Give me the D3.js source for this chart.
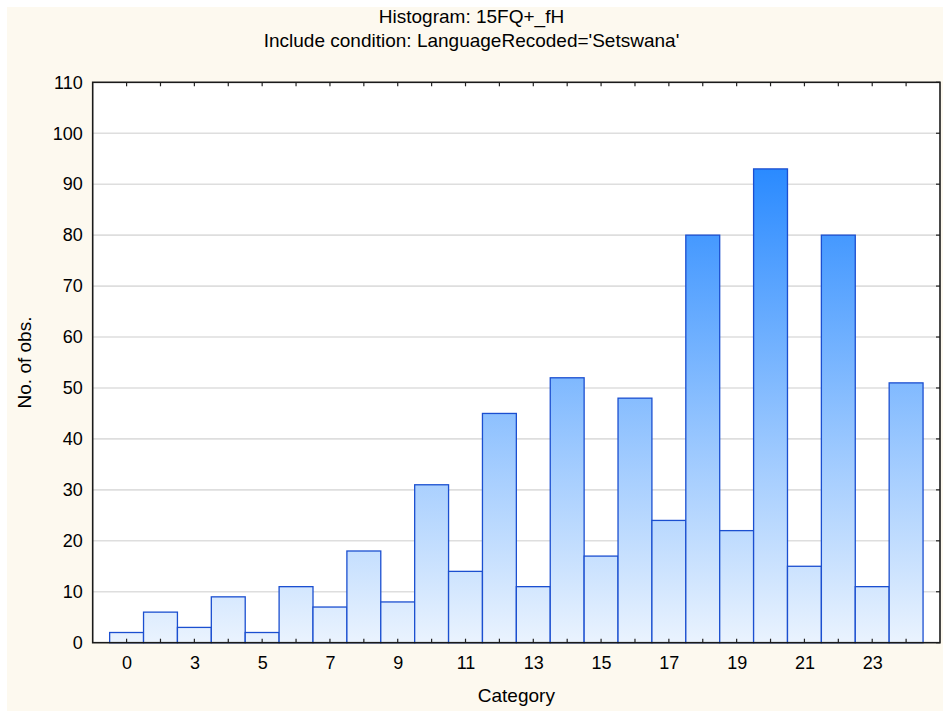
<!DOCTYPE html>
<html>
<head>
<meta charset="utf-8">
<script src="https://cdn.jsdelivr.net/npm/d3@7"></script>
<style>
  html, body { margin: 0; padding: 0; background: #ffffff; }
  svg { display: block; }
  text { font-family: "Liberation Sans", Arial, sans-serif; fill: #000; }
</style>
</head>
<body>
<script>
// ---- data ----
const barIndex = d3.range(24);
const counts = [2, 6, 3, 9, 2, 11, 7, 18, 8, 31, 14, 45, 11, 52, 17, 48, 24, 80, 22, 93, 15, 80, 11, 51];
const tickLabels = ["0", "3", "5", "7", "9", "11", "13", "15", "17", "19", "21", "23"];
const tickLabelBars = [0, 2, 4, 6, 8, 10, 12, 14, 16, 18, 20, 22];
const yTicks = [0, 10, 20, 30, 40, 50, 60, 70, 80, 90, 100, 110];
const titleLines = ["Histogram: 15FQ+_fH", "Include condition: LanguageRecoded='Setswana'"];
const xTitle = "Category";
const yTitle = "No. of obs.";

// ---- layout ----
const W = 943, H = 711;
const plot = { left: 92.7, right: 940, top: 82.3, bottom: 642.7 };
const fontFam = "Liberation Sans, Arial, sans-serif";

const svg = d3.select("body").append("svg").attr("width", W).attr("height", H);

svg.append("rect").attr("x", 7).attr("y", 7).attr("width", W - 7).attr("height", H - 7)
  .attr("fill", "#fdf9ef");

const x = d3.scaleLinear().domain([-1, 24]).range([plot.left, plot.right]);
const y = d3.scaleLinear().domain([0, 110]).range([plot.bottom, plot.top]);

// plot background
svg.append("rect").attr("x", plot.left).attr("y", plot.top)
  .attr("width", plot.right - plot.left).attr("height", plot.bottom - plot.top)
  .attr("fill", "#ffffff");

// gradient (user space, depends on height)
const defs = svg.append("defs");
const grad = defs.append("linearGradient").attr("id", "barGrad")
  .attr("gradientUnits", "userSpaceOnUse")
  .attr("x1", 0).attr("x2", 0).attr("y1", y(0)).attr("y2", y(95));
grad.append("stop").attr("offset", 0).attr("stop-color", "#eaf3fe");
grad.append("stop").attr("offset", 1).attr("stop-color", "#2688ff");

// gridlines
svg.append("g").selectAll("line").data(yTicks.filter(d => d > 0 && d < 110)).join("line")
  .attr("x1", plot.left).attr("x2", plot.right)
  .attr("y1", d => y(d)).attr("y2", d => y(d))
  .attr("stroke", "#dedede").attr("stroke-width", 1.6);

// bars
svg.append("g").selectAll("rect").data(barIndex).join("rect")
  .attr("x", i => x(i - 0.5))
  .attr("width", i => x(i + 0.5) - x(i - 0.5))
  .attr("y", i => y(counts[i]))
  .attr("height", i => y(0) - y(counts[i]))
  .attr("fill", "url(#barGrad)")
  .attr("stroke", "#1b4fd0").attr("stroke-width", 1.3);

// frame ticks
const tickG = svg.append("g").attr("stroke", "#222").attr("stroke-width", 1.2);
tickG.selectAll("line.b").data(barIndex).join("line").attr("class", "b")
  .attr("x1", i => x(i)).attr("x2", i => x(i))
  .attr("y1", plot.bottom).attr("y2", plot.bottom - 4);
tickG.selectAll("line.t").data(barIndex).join("line").attr("class", "t")
  .attr("x1", i => x(i)).attr("x2", i => x(i))
  .attr("y1", plot.top).attr("y2", plot.top + 4);
tickG.selectAll("line.r").data(yTicks).join("line").attr("class", "r")
  .attr("x1", plot.right).attr("x2", plot.right - 4)
  .attr("y1", d => y(d)).attr("y2", d => y(d));

// frame
svg.append("rect").attr("x", plot.left).attr("y", plot.top)
  .attr("width", plot.right - plot.left).attr("height", plot.bottom - plot.top)
  .attr("fill", "none").attr("stroke", "#1a1a1a").attr("stroke-width", 1.6);

// y tick labels via axis
const yAxis = d3.axisLeft(y).tickValues(yTicks).tickSize(0).tickPadding(10).tickFormat(d3.format("d"));
const yg = svg.append("g").attr("transform", `translate(${plot.left},0)`).call(yAxis);
yg.select(".domain").remove();
yg.selectAll("text").style("font-size", "18px").style("font-family", fontFam).attr("fill", "#000");

// x tick labels via axis
const xAxis = d3.axisBottom(x).tickValues(tickLabelBars).tickSize(0).tickPadding(14)
  .tickFormat((d) => tickLabels[tickLabelBars.indexOf(d)]);
const xg = svg.append("g").attr("transform", `translate(0,${plot.bottom})`).call(xAxis);
xg.select(".domain").remove();
xg.selectAll("text").style("font-size", "18px").style("font-family", fontFam).attr("fill", "#000");

// titles
svg.append("text").attr("x", 471.5).attr("y", 23).attr("text-anchor", "middle")
  .style("font-size", "19px").text(titleLines[0]);
svg.append("text").attr("x", 471.5).attr("y", 47).attr("text-anchor", "middle")
  .style("font-size", "19px").text(titleLines[1]);

svg.append("text").attr("x", (plot.left + plot.right) / 2).attr("y", 702).attr("text-anchor", "middle")
  .style("font-size", "19px").text(xTitle);

svg.append("text").attr("transform", `translate(31,${(plot.top + plot.bottom) / 2}) rotate(-90)`)
  .attr("text-anchor", "middle").style("font-size", "19px").text(yTitle);
</script>
</body>
</html>
